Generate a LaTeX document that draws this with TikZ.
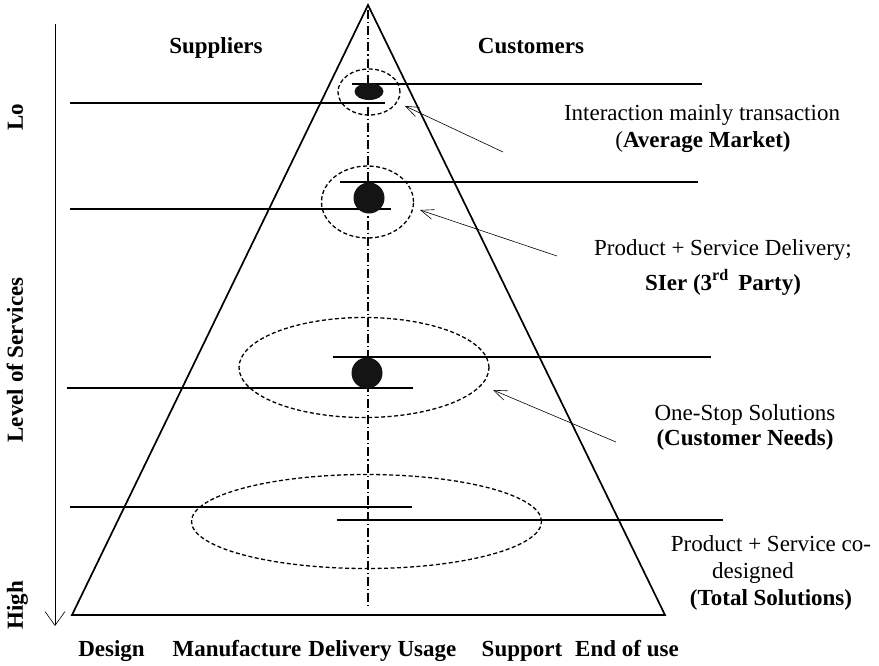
\documentclass[tikz,border=0pt]{standalone}
\usepackage{fontspec}
\setmainfont{Liberation Serif}
\usetikzlibrary{arrows.meta}
\begin{document}
\begin{tikzpicture}[x=1pt,y=-1pt,
  txt/.style={font=\fontsize{23}{27}\selectfont, inner sep=0pt, anchor=base},
  btxt/.style={txt, font=\fontsize{23}{27}\selectfont\bfseries},
  edge/.style={line width=1.7pt, line join=miter},
  level/.style={line width=1.8pt},
  axisline/.style={line width=0.9pt},
  center/.style={line width=1.3pt, dash pattern=on 9pt off 3pt on 1.2pt off 3pt},
  group/.style={line width=1.3pt, dash pattern=on 4pt off 2.5pt},
  dot/.style={fill=black!92},
  pointer/.style={line width=0.6pt, -{Straight Barb[length=13pt,width=10pt,line width=0.6pt]}}
]
\useasboundingbox (0,0) rectangle (879,665);

% pyramid
\coordinate (apex) at (368,5);
\coordinate (bl) at (72,615);
\coordinate (br) at (665,615);
\draw[edge] (bl) -- (apex) -- (br) -- cycle;

% centre line
\coordinate (ctop) at (368,10);
\coordinate (cbot) at (368,608);
\draw[center] (ctop) -- (cbot);

% level axis
\coordinate (atop) at (55,24);
\coordinate (abot) at (55,626);
\draw[axisline, -{Straight Barb[length=14pt,width=20pt,line width=0.6pt]}] (atop) -- (abot);

% level 1
\coordinate (r1a) at (352,84);  \coordinate (r1b) at (702,84);
\coordinate (s1a) at (70,103);  \coordinate (s1b) at (385,103);
\draw[level] (r1a) -- (r1b);
\draw[level] (s1a) -- (s1b);
\fill[dot] (369,91.5) ellipse [x radius=14.5pt, y radius=8.5pt];
\draw[group] (369,92) ellipse [x radius=31pt, y radius=23pt];

% level 2
\coordinate (r2a) at (340,182); \coordinate (r2b) at (698,182);
\coordinate (s2a) at (70,209);  \coordinate (s2b) at (391,209);
\draw[level] (r2a) -- (r2b);
\draw[level] (s2a) -- (s2b);
\fill[dot] (369,198) circle [radius=15.5pt];
\draw[group] (367.5,202) ellipse [x radius=46pt, y radius=36pt];

% level 3
\coordinate (r3a) at (333,357); \coordinate (r3b) at (711,357);
\coordinate (s3a) at (67,388);  \coordinate (s3b) at (413,388);
\draw[level] (r3a) -- (r3b);
\draw[level] (s3a) -- (s3b);
\fill[dot] (367,373) circle [radius=15.5pt];
\draw[group] (364,367.5) ellipse [x radius=125pt, y radius=50pt];

% level 4
\coordinate (s4a) at (70,507);  \coordinate (s4b) at (412,507);
\coordinate (r4a) at (337,520); \coordinate (r4b) at (723,520);
\draw[level] (s4a) -- (s4b);
\draw[level] (r4a) -- (r4b);
\draw[group] (366.5,521.5) ellipse [x radius=175pt, y radius=47pt];

% pointers
\coordinate (p1s) at (503,152); \coordinate (p1e) at (405,106);
\coordinate (p2s) at (557,256); \coordinate (p2e) at (420,210);
\coordinate (p3s) at (616,442); \coordinate (p3e) at (493,390);
\draw[pointer] (p1s) -- (p1e);
\draw[pointer] (p2s) -- (p2e);
\draw[pointer] (p3s) -- (p3e);

% top labels
\node[btxt] (sup) at (216,53) {Suppliers};
\node[btxt] (cus) at (531,53) {Customers};

% axis labels
\node[btxt, rotate=90] (lo) at (23,117) {Lo};
\node[btxt, rotate=90] (los) at (23,360) {Level of Services};
\node[btxt, rotate=90] (hi) at (23,605) {High};

% bottom labels
\node[btxt] (b1) at (111.5,656) {Design};
\node[btxt] (b2) at (237,656) {Manufacture};
\node[btxt] (b3) at (350,656) {Delivery};
\node[btxt] (b4) at (427,656) {Usage};
\node[btxt] (b5) at (522,656) {Support};
\node[btxt] (b6) at (627,656) {End of use};

% right labels
\node[txt] (t1a) at (702,120) {Interaction mainly transaction};
\node[txt] (t1b) at (703,147) {(\textbf{Average Market)}};
\node[txt] (t2a) at (723,255) {Product + Service Delivery;};
\node[btxt] (t2b) at (723,290) {SIer (3\textsuperscript{rd}\, Party)};
\node[txt] (t3a) at (745,420) {One-Stop Solutions};
\node[btxt] (t3b) at (745,445) {(Customer Needs)};
\node[txt] (t4a) at (771,551) {Product + Service co-};
\node[txt] (t4b) at (753,578) {designed};
\node[btxt] (t4c) at (771,605) {(Total Solutions)};
\end{tikzpicture}
\end{document}
